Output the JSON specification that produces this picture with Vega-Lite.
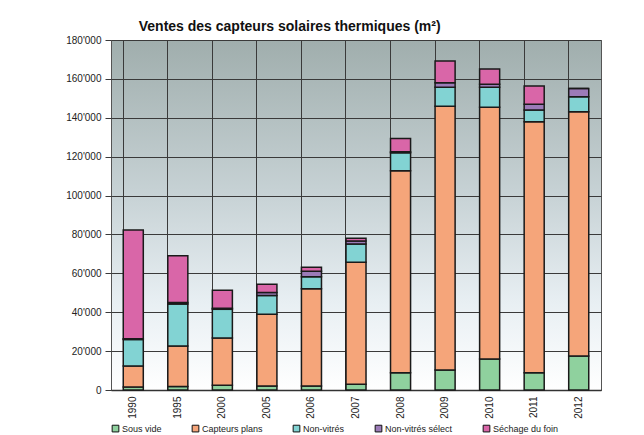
{
  "$schema": "https://vega.github.io/schema/vega-lite/v6.json",
  "width": 490,
  "height": 350,
  "autosize": "none",
  "padding": {"left": 111, "top": 40, "right": 43, "bottom": 45},
  "background": "#ffffff",
  "title": {
    "text": "Ventes des capteurs solaires thermiques (m²)",
    "anchor": "start",
    "dx": 73,
    "offset": 1,
    "font": "Liberation Sans",
    "fontSize": 14,
    "fontWeight": "bold",
    "color": "#111111"
  },
  "config": {
    "font": "Liberation Sans",
    "view": {
      "stroke": "#555555",
      "strokeWidth": 1,
      "fill": {
        "gradient": "linear",
        "x1": 0, "y1": 0, "x2": 0, "y2": 1,
        "stops": [
          {"offset": 0, "color": "#a0aead"},
          {"offset": 0.45, "color": "#c8d3d6"},
          {"offset": 0.75, "color": "#e8eff3"},
          {"offset": 1, "color": "#ffffff"}
        ]
      }
    }
  },
  "data": {
    "values": [
      {"annee": "1990", "type": "Sous vide", "m2": 1500},
      {"annee": "1990", "type": "Capteurs plans", "m2": 10800},
      {"annee": "1990", "type": "Non-vitrés", "m2": 13700},
      {"annee": "1990", "type": "Non-vitrés sélect", "m2": 300},
      {"annee": "1990", "type": "Séchage du foin", "m2": 56000},
      {"annee": "1995", "type": "Sous vide", "m2": 1800},
      {"annee": "1995", "type": "Capteurs plans", "m2": 20800},
      {"annee": "1995", "type": "Non-vitrés", "m2": 21600},
      {"annee": "1995", "type": "Non-vitrés sélect", "m2": 800},
      {"annee": "1995", "type": "Séchage du foin", "m2": 24000},
      {"annee": "2000", "type": "Sous vide", "m2": 2500},
      {"annee": "2000", "type": "Capteurs plans", "m2": 24200},
      {"annee": "2000", "type": "Non-vitrés", "m2": 14800},
      {"annee": "2000", "type": "Non-vitrés sélect", "m2": 500},
      {"annee": "2000", "type": "Séchage du foin", "m2": 9300},
      {"annee": "2005", "type": "Sous vide", "m2": 2000},
      {"annee": "2005", "type": "Capteurs plans", "m2": 36900},
      {"annee": "2005", "type": "Non-vitrés", "m2": 9700},
      {"annee": "2005", "type": "Non-vitrés sélect", "m2": 1500},
      {"annee": "2005", "type": "Séchage du foin", "m2": 4300},
      {"annee": "2006", "type": "Sous vide", "m2": 2000},
      {"annee": "2006", "type": "Capteurs plans", "m2": 50100},
      {"annee": "2006", "type": "Non-vitrés", "m2": 6200},
      {"annee": "2006", "type": "Non-vitrés sélect", "m2": 2800},
      {"annee": "2006", "type": "Séchage du foin", "m2": 2000},
      {"annee": "2007", "type": "Sous vide", "m2": 3000},
      {"annee": "2007", "type": "Capteurs plans", "m2": 62700},
      {"annee": "2007", "type": "Non-vitrés", "m2": 9400},
      {"annee": "2007", "type": "Non-vitrés sélect", "m2": 1500},
      {"annee": "2007", "type": "Séchage du foin", "m2": 1400},
      {"annee": "2008", "type": "Sous vide", "m2": 8900},
      {"annee": "2008", "type": "Capteurs plans", "m2": 103900},
      {"annee": "2008", "type": "Non-vitrés", "m2": 9200},
      {"annee": "2008", "type": "Non-vitrés sélect", "m2": 500},
      {"annee": "2008", "type": "Séchage du foin", "m2": 6900},
      {"annee": "2009", "type": "Sous vide", "m2": 10300},
      {"annee": "2009", "type": "Capteurs plans", "m2": 135600},
      {"annee": "2009", "type": "Non-vitrés", "m2": 9800},
      {"annee": "2009", "type": "Non-vitrés sélect", "m2": 2300},
      {"annee": "2009", "type": "Séchage du foin", "m2": 11200},
      {"annee": "2010", "type": "Sous vide", "m2": 15900},
      {"annee": "2010", "type": "Capteurs plans", "m2": 129500},
      {"annee": "2010", "type": "Non-vitrés", "m2": 10300},
      {"annee": "2010", "type": "Non-vitrés sélect", "m2": 1500},
      {"annee": "2010", "type": "Séchage du foin", "m2": 7900},
      {"annee": "2011", "type": "Sous vide", "m2": 8900},
      {"annee": "2011", "type": "Capteurs plans", "m2": 129100},
      {"annee": "2011", "type": "Non-vitrés", "m2": 6000},
      {"annee": "2011", "type": "Non-vitrés sélect", "m2": 3000},
      {"annee": "2011", "type": "Séchage du foin", "m2": 9300},
      {"annee": "2012", "type": "Sous vide", "m2": 17500},
      {"annee": "2012", "type": "Capteurs plans", "m2": 125600},
      {"annee": "2012", "type": "Non-vitrés", "m2": 7700},
      {"annee": "2012", "type": "Non-vitrés sélect", "m2": 4200},
      {"annee": "2012", "type": "Séchage du foin", "m2": 0}
    ]
  },
  "transform": [
    {"calculate": "indexof(['Sous vide', 'Capteurs plans', 'Non-vitrés', 'Non-vitrés sélect', 'Séchage du foin'], datum.type)", "as": "rang"}
  ],
  "mark": {"type": "bar", "stroke": "#1a1a1a", "strokeWidth": 1.5},
  "encoding": {
    "x": {
      "field": "annee",
      "type": "nominal",
      "sort": null,
      "scale": {"paddingInner": 0.55, "paddingOuter": 0.275},
      "axis": {
        "title": null,
        "labelAngle": -90,
        "labelFontSize": 10,
        "labelColor": "#222222",
        "labelPadding": 6,
        "bandPosition": 0,
        "ticks": false,
        "grid": true,
        "gridColor": "#3a3a3a",
        "gridWidth": 1,
        "domainColor": "#333333",
        "domainWidth": 1.5
      }
    },
    "y": {
      "field": "m2",
      "type": "quantitative",
      "stack": "zero",
      "scale": {"domain": [0, 180000], "nice": false},
      "axis": {
        "title": null,
        "values": [0, 20000, 40000, 60000, 80000, 100000, 120000, 140000, 160000, 180000],
        "labelExpr": "replace(format(datum.value, ','), /,/g, \"'\")",
        "labelFontSize": 10,
        "labelColor": "#222222",
        "labelPadding": 4,
        "tickSize": 6,
        "tickColor": "#3a3a3a",
        "domain": false,
        "grid": true,
        "gridColor": "#3a3a3a",
        "gridWidth": 1
      }
    },
    "color": {
      "field": "type",
      "type": "nominal",
      "scale": {
        "domain": ["Sous vide", "Capteurs plans", "Non-vitrés", "Non-vitrés sélect", "Séchage du foin"],
        "range": ["#8fd19e", "#f5a57a", "#82d3d3", "#9c7bb8", "#d966a8"]
      },
      "legend": {
        "title": null,
        "orient": "bottom",
        "direction": "horizontal",
        "offset": 5,
        "symbolType": "square",
        "symbolSize": 45,
        "symbolStrokeColor": "#111111",
        "symbolStrokeWidth": 1,
        "labelFontSize": 9,
        "labelColor": "#222222",
        "labelOffset": 2,
        "columnPadding": 28
      }
    },
    "order": {"field": "rang", "type": "quantitative", "sort": "ascending"}
  }
}
